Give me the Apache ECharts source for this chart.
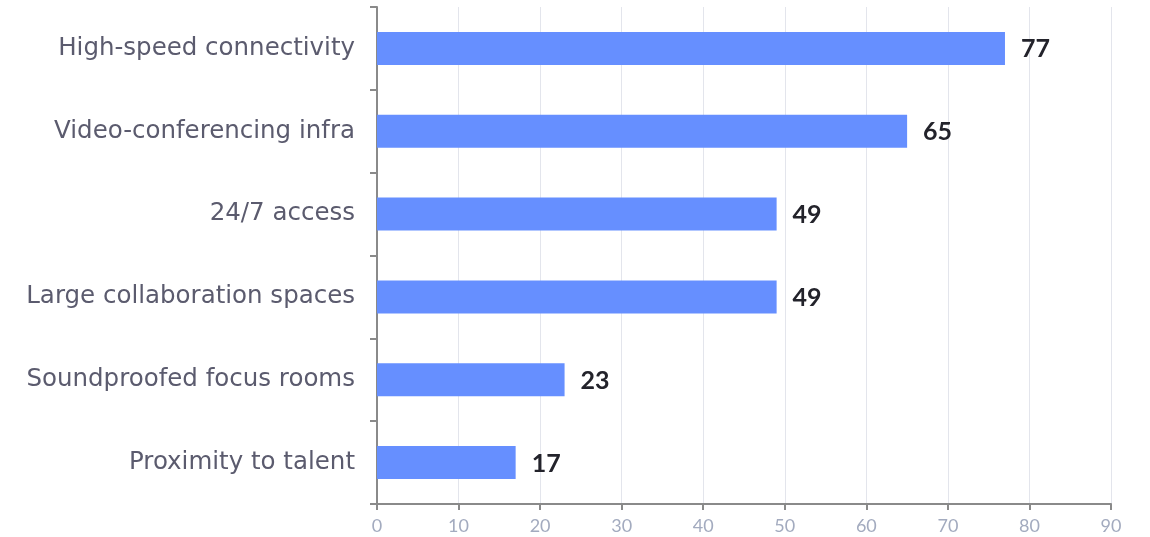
<!DOCTYPE html>
<html>
<head>
<meta charset="utf-8">
<style>
  html, body { margin: 0; padding: 0; background: #ffffff; }
  #chart { width: 1150px; height: 537px; }
</style>
<script src="https://cdn.jsdelivr.net/npm/echarts@6/dist/echarts.min.js"></script>
</head>
<body>
<div id="chart"></div>
<script>
// Workspace amenities, ranked by score
const categories = [
  'High-speed connectivity',
  'Video-conferencing infra',
  '24/7 access',
  'Large collaboration spaces',
  'Soundproofed focus rooms',
  'Proximity to talent'
];
const values = [77, 65, 49, 49, 23, 17];
const xTicks = { min: 0, max: 90, interval: 10 };

const chart = echarts.init(document.getElementById('chart'));
const labelFont = '"DejaVu Sans", "Noto Sans", sans-serif';
const valueFont = 'Lato, "Noto Sans", sans-serif';

chart.setOption({
  animation: false,
  grid: { left: 377, right: 39, top: 7, bottom: 33, containLabel: false },
  xAxis: {
    type: 'value',
    min: xTicks.min,
    max: xTicks.max,
    interval: xTicks.interval,
    axisLine: { show: true, lineStyle: { color: '#8a8a8a', width: 2 } },
    axisTick: { show: true, length: 6, lineStyle: { color: '#8a8a8a', width: 2 } },
    axisLabel: { color: '#a3abbf', fontSize: 18, fontFamily: valueFont, margin: 13 },
    splitLine: { show: true, lineStyle: { color: '#e3e5ec', width: 1 } }
  },
  yAxis: {
    type: 'category',
    inverse: true,
    data: categories,
    axisLine: { show: true, lineStyle: { color: '#8a8a8a', width: 2 } },
    axisTick: { show: true, length: 7, lineStyle: { color: '#8a8a8a', width: 2 } },
    axisLabel: {
      color: '#5b5b6e',
      fontSize: 24.5,
      fontFamily: labelFont,
      margin: 22,
      padding: [4, 0, 0, 0]
    },
    splitLine: { show: false }
  },
  series: [{
    type: 'bar',
    data: values,
    barWidth: 33,
    itemStyle: { color: '#668fff' },
    label: {
      show: true,
      position: 'right',
      distance: 16,
      offset: [0, 1],
      color: '#23232b',
      fontSize: 25,
      fontWeight: 'bold',
      fontFamily: valueFont
    }
  }]
});
</script>
</body>
</html>
